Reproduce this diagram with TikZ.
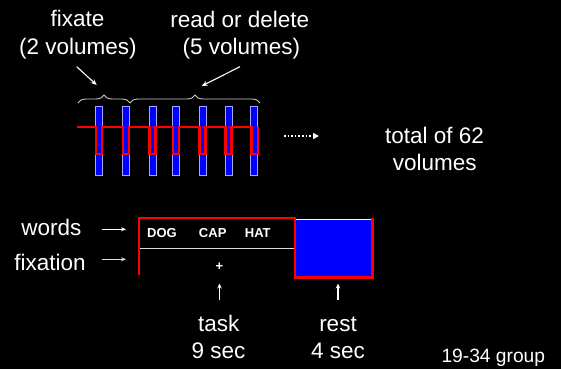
\documentclass[tikz,border=0pt]{standalone}
\usepackage{fontspec}
\setmainfont{Liberation Sans}
\usetikzlibrary{arrows.meta,decorations.pathreplacing}
\begin{document}
\begin{tikzpicture}[x=1pt,y=-1pt,
  lbl/.style={text=white,inner sep=0pt,anchor=base,font=\fontsize{22.5}{27}\selectfont},
  small/.style={text=white,inner sep=0pt,anchor=base,font=\fontsize{13}{15}\selectfont\bfseries},
  grp/.style={text=white,inner sep=0pt,anchor=base,font=\fontsize{19.2}{23}\selectfont},
  bar/.style={fill=blue,draw=white!65!blue,line width=0.8pt},
  warrow/.style={white,line width=1.1pt,-{Stealth[length=6pt,width=5pt]}},
  bracestyle/.style={draw=white!80!black,line width=0.9pt,decorate,decoration={brace,amplitude=8pt}},
  redline/.style={red,line width=2.6pt,line join=miter}
]
\useasboundingbox (0,0) rectangle (561,369);
\fill[black] (0,0) rectangle (561,369);

% top labels
\node[lbl] (fix1) at (77.5,26.5) {fixate};
\node[lbl] (fix2) at (78,55) {(2 volumes)};
\node[lbl] (rd1) at (239.7,27.3) {read or delete};
\node[lbl] (rd2) at (241.3,55) {(5 volumes)};

% bars
\foreach \cx [count=\i] in {99,126,152.7,176,202.7,228.7,254.3} {
  \node[bar,minimum width=7pt,minimum height=68.3pt,inner sep=0pt] (b\i) at (\cx,140.85) {};
}

% red timing line
\draw[redline] (77.3,127)
  -- (96,127) -- (96,154) -- (102,154) -- (102,127)
  -- (123,127) -- (123,154) -- (129,154) -- (129,127)
  -- (149.7,127) -- (149.7,154) -- (155.7,154) -- (155.7,127)
  -- (173,127) -- (173,154) -- (179,154) -- (179,127)
  -- (199.7,127) -- (199.7,154) -- (205.7,154) -- (205.7,127)
  -- (225.7,127) -- (225.7,154) -- (231.7,154) -- (231.7,127)
  -- (251.3,127) -- (251.3,154) -- (258,154) -- (258,127);

% braces
\coordinate (br0) at (78,103);
\coordinate (br1) at (130,103);
\coordinate (br2) at (260,103);
\draw[bracestyle] (br0) -- (br1);
\draw[bracestyle] (br1) -- (br2);

% pointer arrows
\coordinate (fa0) at (76.7,66.7);
\coordinate (fa1) at (96.7,85);
\coordinate (ra0) at (240,66.7);
\coordinate (ra1) at (201.7,86);
\draw[warrow] (fa0) -- (fa1);
\draw[warrow] (ra0) -- (ra1);

% dotted arrow and total
\coordinate (d0) at (284,136);
\coordinate (d1) at (319,136);
\draw[white,line width=1.6pt,dotted,-{Triangle[length=6pt,width=6pt]}] (d0) -- (d1);
\node[lbl] (tot1) at (434.5,143.3) {total of 62};
\node[lbl] (tot2) at (434.7,170) {volumes};

% lower left labels
\node[lbl] (words) at (51.3,235) {words};
\node[lbl] (fixation) at (50,270.5) {fixation};
\coordinate (wa0) at (101.7,229.3);
\coordinate (wa1) at (126,229.3);
\coordinate (xa0) at (101.7,259.3);
\coordinate (xa1) at (126,259.3);
\draw[white,line width=0.9pt,-{Stealth[length=5pt,width=4pt]}] (wa0) -- (wa1);
\draw[white!85!black,line width=0.9pt,-{Stealth[length=5pt,width=4pt]}] (xa0) -- (xa1);

% rest block
\fill[blue] (295,219) rectangle (372.5,277.5);
\draw[white,line width=0.9pt] (296,219.3) -- (371.5,219.3);
% separator
\draw[white!85!black,line width=0.9pt] (139,248.3) -- (294,248.3);
% red outline
\draw[redline] (139,275) -- (139,218) -- (295,218) -- (295,277.5) -- (372.5,277.5) -- (372.5,218);

% words
\node[small] (dog) at (162,237.3) {DOG};
\node[small] (cap) at (212.7,237.3) {CAP};
\node[small] (hat) at (257.8,237.3) {HAT};
\node[small,anchor=center] (plus) at (219.3,266.7) {+};

% up arrows
\coordinate (ta0) at (219.5,300);
\coordinate (ta1) at (219.5,283.5);
\coordinate (ra2) at (338,300);
\coordinate (ra3) at (338,283.5);
\draw[white,line width=1.1pt,-{Stealth[length=5pt,width=4.5pt]}] (ta0) -- (ta1);
\draw[white,line width=1.1pt,-{Stealth[length=5pt,width=4.5pt]}] (ra2) -- (ra3);

\node[lbl] (task) at (218.7,331.7) {task};
\node[lbl] (tsec) at (218.4,358.3) {9 sec};
\node[lbl] (rest) at (338,331.7) {rest};
\node[lbl] (rsec) at (338,358.3) {4 sec};
\node[grp] (group) at (493.3,362.7) {19-34 group};
\end{tikzpicture}
\end{document}
